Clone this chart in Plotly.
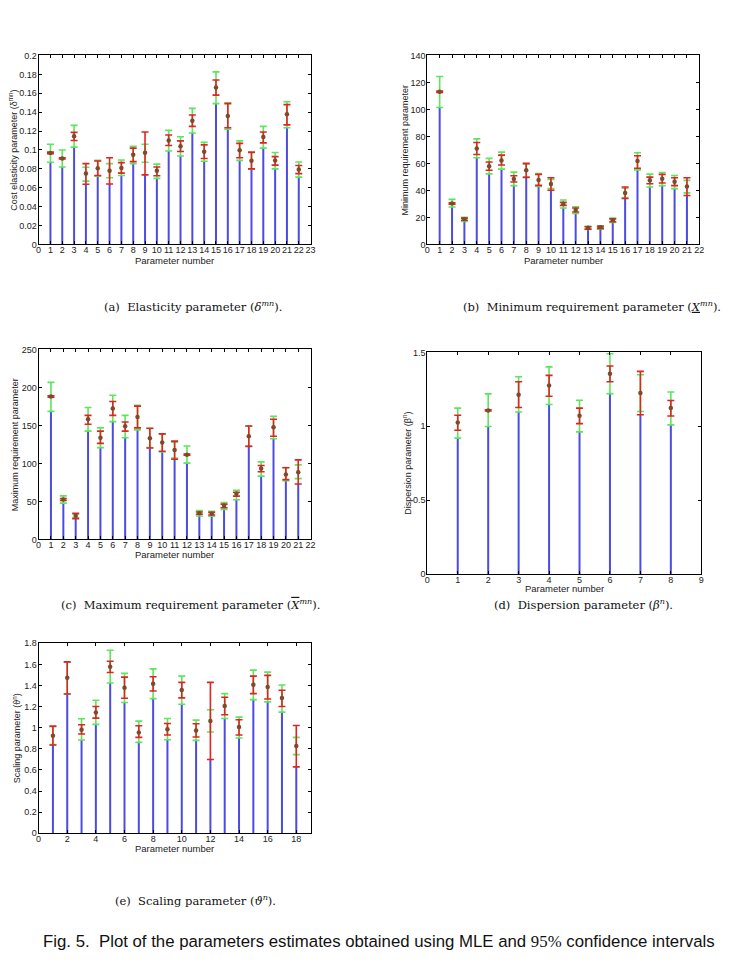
import plotly.graph_objects as go

# ---------------- data ----------------
a_est = [0.0967,0.0910,0.1144,0.0750,0.0807,0.0780,0.0810,0.0950,0.0970,0.0780,0.1100,0.1040,0.1310,0.0980,0.1660,0.1360,0.0998,0.0887,0.1137,0.0890,0.1377,0.0793]
a_g_hi = [0.106,0.100,0.126,0.0817,0.089,0.0856,0.0894,0.104,0.106,0.085,0.1207,0.114,0.144,0.108,0.1826,0.150,0.1096,0.097,0.125,0.0974,0.151,0.0873]
a_g_lo = [0.087,0.082,0.103,0.067,0.0723,0.0706,0.073,0.0856,0.087,0.070,0.099,0.0936,0.118,0.088,0.149,0.122,0.089,0.080,0.102,0.080,0.1235,0.0713]
a_r_hi = [0.0977,0.0918,0.1186,0.0856,0.0883,0.0918,0.0866,0.102,0.119,0.082,0.1158,0.1096,0.137,0.1054,0.174,0.149,0.107,0.0977,0.119,0.093,0.148,0.0835]
a_r_lo = [0.096,0.0904,0.110,0.0637,0.073,0.064,0.0755,0.0877,0.0737,0.0727,0.1047,0.0984,0.125,0.091,0.158,0.1235,0.0918,0.080,0.1075,0.084,0.1266,0.075]

b_est = [113.2,30.4,18.7,71.1,57.9,62.3,48.5,55.0,47.7,44.8,29.9,25.6,12.4,12.7,18.0,38.2,61.8,47.5,48.7,46.5,42.9]
b_g_hi = [124.4,33.4,20.2,78.2,63.8,68.4,53.6,59.5,52.6,48.2,32.9,28.0,13.4,13.9,19.5,41.6,67.9,52.1,53.3,51.1,47.5]
b_g_lo = [101.5,27.8,17.0,64.3,52.3,55.8,43.6,50.0,42.9,41.4,27.0,22.9,11.2,11.4,16.3,34.8,55.3,42.6,43.6,41.4,38.2]
b_r_hi = [113.7,30.9,19.5,75.5,61.1,66.2,50.9,60.1,51.9,49.4,31.2,27.0,13.1,13.4,19.0,42.6,65.7,49.9,51.9,49.4,49.4]
b_r_lo = [112.7,29.9,18.0,66.7,55.0,58.9,46.3,49.7,43.8,40.2,29.0,24.1,11.4,11.9,16.8,34.1,56.5,45.0,45.5,43.6,36.3]

c_est = [187.9,52.5,31.2,158.0,133.7,172.3,148.9,161.0,133.2,127.6,117.6,111.5,34.3,33.9,44.3,59.9,135.8,93.3,147.6,85.5,88.5]
c_g_hi = [206.6,57.3,33.4,173.6,146.7,189.7,163.2,176.6,146.0,138.9,128.0,122.8,37.8,36.9,48.6,64.7,149.0,102.0,161.9,94.6,98.1]
c_g_lo = [168.4,47.7,28.6,142.4,120.7,155.0,133.7,144.1,121.0,115.0,107.0,100.3,30.8,30.4,39.5,52.1,122.8,83.3,132.4,77.3,79.9]
c_r_hi = [188.8,53.8,34.3,163.2,142.4,181.4,154.5,175.3,146.3,138.9,129.3,112.4,36.0,35.6,46.4,62.1,149.3,97.2,158.0,94.2,104.6]
c_r_lo = [187.1,51.2,27.3,151.5,126.3,163.2,142.4,146.7,120.2,115.9,105.5,110.7,33.0,32.1,41.7,56.9,122.4,89.0,135.8,78.6,72.9]

d_est = [1.025,1.107,1.214,1.275,1.071,1.355,1.225,1.123]
d_g_hi = [1.123,1.219,1.335,1.402,1.176,1.491,1.348,1.232]
d_g_lo = [0.920,0.998,1.096,1.147,0.962,1.221,1.100,1.009]
d_r_hi = [1.074,1.112,1.301,1.344,1.123,1.408,1.371,1.174]
d_r_lo = [0.973,1.103,1.127,1.203,1.018,1.301,1.078,1.069]

e_est = [0.925,1.474,0.981,1.145,1.577,1.380,0.956,1.417,0.985,1.358,0.975,1.063,1.207,1.007,1.408,1.386,1.283,0.828]
e_g_hi = [1.010,1.620,1.085,1.261,1.734,1.515,1.063,1.558,1.088,1.489,1.072,1.170,1.323,1.101,1.546,1.527,1.405,0.909]
e_g_lo = [0.840,1.320,0.884,1.032,1.424,1.239,0.862,1.276,0.887,1.223,0.881,0.960,1.088,0.903,1.267,1.245,1.148,0.746]
e_r_hi = [1.016,1.624,1.028,1.201,1.630,1.480,1.019,1.483,1.041,1.430,1.038,1.430,1.289,1.076,1.489,1.496,1.355,1.022]
e_r_lo = [0.837,1.320,0.941,1.091,1.524,1.279,0.909,1.348,0.931,1.283,0.912,0.699,1.123,0.931,1.323,1.273,1.201,0.630]

x_title = "Parameter number"
y_titles = ["Cost elasticity parameter (δ<sup>mn</sup>)",
            "Minimum requirement parameter",
            "Maximum requirement parameter",
            "Dispersion parameter (β<sup>n</sup>)",
            "Scaling parameter (ϑ<sup>n</sup>)"]

panels = [
    dict(est=a_est, ghi=a_g_hi, glo=a_g_lo, rhi=a_r_hi, rlo=a_r_lo,
         xr=[0, 23], xdt=1, yr=[0, 0.2], ydt=0.02,
         px=(36, 311), py=(51, 242), xt_y=258, yt_x=10),
    dict(est=b_est, ghi=b_g_hi, glo=b_g_lo, rhi=b_r_hi, rlo=b_r_lo,
         xr=[0, 22], xdt=1, yr=[0, 140], ydt=20,
         px=(429, 704), py=(51, 242), xt_y=258, yt_x=406),
    dict(est=c_est, ghi=c_g_hi, glo=c_g_lo, rhi=c_r_hi, rlo=c_r_lo,
         xr=[0, 22], xdt=1, yr=[0, 250], ydt=50,
         px=(36, 311), py=(348, 540), xt_y=555, yt_x=13),
    dict(est=d_est, ghi=d_g_hi, glo=d_g_lo, rhi=d_r_hi, rlo=d_r_lo,
         xr=[0, 9], xdt=1, yr=[0, 1.5], ydt=0.5,
         px=(429, 706), py=(351, 575), xt_y=590, yt_x=409),
    dict(est=e_est, ghi=e_g_hi, glo=e_g_lo, rhi=e_r_hi, rlo=e_r_lo,
         xr=[0, 19], xdt=2, yr=[0, 1.8], ydt=0.2,
         px=(36, 311), py=(645, 837), xt_y=852, yt_x=14),
]

W, H = 732, 965
BLUE = "rgba(45,45,225,0.85)"
GREEN = "#5be65b"
RED = "#e02424"
DOT = "#7d4a2a"
SANS = "Liberation Sans, Arial, sans-serif"
TICKFONT = dict(family=SANS, size=9, color="#222")

fig = go.Figure()
layout = {}
annotations = []
for i, p in enumerate(panels):
    k = "" if i == 0 else str(i + 1)
    xa, ya = "x" + k, "y" + k
    n = len(p["est"])
    xs = list(range(1, n + 1))
    stem = [min(g, r) for g, r in zip(p["glo"], p["rlo"])]
    zeros = [0] * n
    fig.add_trace(go.Scatter(
        x=xs, y=zeros, mode="markers", marker=dict(size=1, opacity=0),
        error_y=dict(type="data", symmetric=False, array=stem, arrayminus=zeros,
                     color=BLUE, thickness=2, width=0),
        xaxis=xa, yaxis=ya, showlegend=False, hoverinfo="skip"))
    fig.add_trace(go.Scatter(
        x=xs, y=p["est"], mode="markers", marker=dict(size=1, opacity=0),
        error_y=dict(type="data", symmetric=False,
                     array=[h - e for h, e in zip(p["ghi"], p["est"])],
                     arrayminus=[e - l for e, l in zip(p["est"], p["glo"])],
                     color=GREEN, thickness=1.6, width=3.5),
        xaxis=xa, yaxis=ya, showlegend=False, hoverinfo="skip"))
    fig.add_trace(go.Scatter(
        x=xs, y=p["est"], mode="markers", marker=dict(size=1, opacity=0),
        error_y=dict(type="data", symmetric=False,
                     array=[h - e for h, e in zip(p["rhi"], p["est"])],
                     arrayminus=[e - l for e, l in zip(p["est"], p["rlo"])],
                     color=RED, thickness=1.6, width=3.5),
        xaxis=xa, yaxis=ya, showlegend=False, hoverinfo="skip"))
    fig.add_trace(go.Scatter(
        x=xs, y=p["est"], mode="markers",
        marker=dict(size=4.5, color=DOT, symbol="circle"),
        xaxis=xa, yaxis=ya, showlegend=False))

    x0, x1 = p["px"]
    y0, y1 = p["py"]
    common = dict(showline=True, linecolor="black", linewidth=1, mirror="ticks",
                  ticks="inside", ticklen=3, tickcolor="black", tickwidth=1,
                  showgrid=False, zeroline=False, tickfont=TICKFONT)
    layout["xaxis" + k] = dict(
        domain=[x0 / W, x1 / W], range=p["xr"], tick0=0, dtick=p["xdt"],
        anchor=ya, tickangle=0, ticklabelstandoff=-3, **common)
    layout["yaxis" + k] = dict(
        domain=[1 - y1 / H, 1 - y0 / H], range=p["yr"], tick0=0, dtick=p["ydt"],
        anchor=xa, ticklabelstandoff=-1, **common)
    annotations.append(dict(text=x_title, x=(x0 + x1) / 2 / W, y=1 - p["xt_y"] / H,
                            xref="paper", yref="paper", showarrow=False,
                            xanchor="center", yanchor="middle",
                            font=dict(family=SANS, size=9.5, color="#222")))
    annotations.append(dict(text=y_titles[i], x=p["yt_x"] / W, y=1 - (y0 + y1) / 2 / H,
                            xref="paper", yref="paper", showarrow=False, textangle=-90,
                            xanchor="center", yanchor="middle",
                            font=dict(family=SANS, size=9, color="#222")))

SERIF = "DejaVu Serif, Liberation Serif, serif"
caps = [
    ("(a)  Elasticity parameter (<i>δ</i><sup><i>mn</i></sup>).", 192, 305),
    ("(b)  Minimum requirement parameter (<u><i>X</i></u><sup><i>mn</i></sup>).", 596, 305),
    ("(c)  Maximum requirement parameter (<span style='text-decoration:overline'><i>X</i></span><sup><i>mn</i></sup>).", 190, 606),
    ("(d)  Dispersion parameter (<i>β</i><sup><i>n</i></sup>).", 587, 606),
    ("(e)  Scaling parameter (<i>ϑ</i><sup><i>n</i></sup>).", 195, 905),
]
for t, cx, cy in caps:
    annotations.append(dict(text=t, x=cx / W, y=1 - cy / H, xref="paper", yref="paper",
                            showarrow=False, xanchor="center", yanchor="middle",
                            font=dict(family=SERIF, size=11.5, color="#111")))
annotations.append(dict(
    text="Fig. 5.  Plot of the parameters estimates obtained using MLE and "
         "<span style='font-family:Liberation Serif'>95%</span> confidence intervals",
    x=38 / W, y=1 - 946 / H, xref="paper", yref="paper", showarrow=False,
    xanchor="left", yanchor="middle",
    font=dict(family="Liberation Sans Narrow, Liberation Sans, Arial, sans-serif", size=16.8, color="#111")))

fig.update_layout(
    width=W, height=H, margin=dict(l=0, r=0, t=0, b=0),
    paper_bgcolor="white", plot_bgcolor="white",
    annotations=annotations, **layout)

fig.write_html("out.html")
